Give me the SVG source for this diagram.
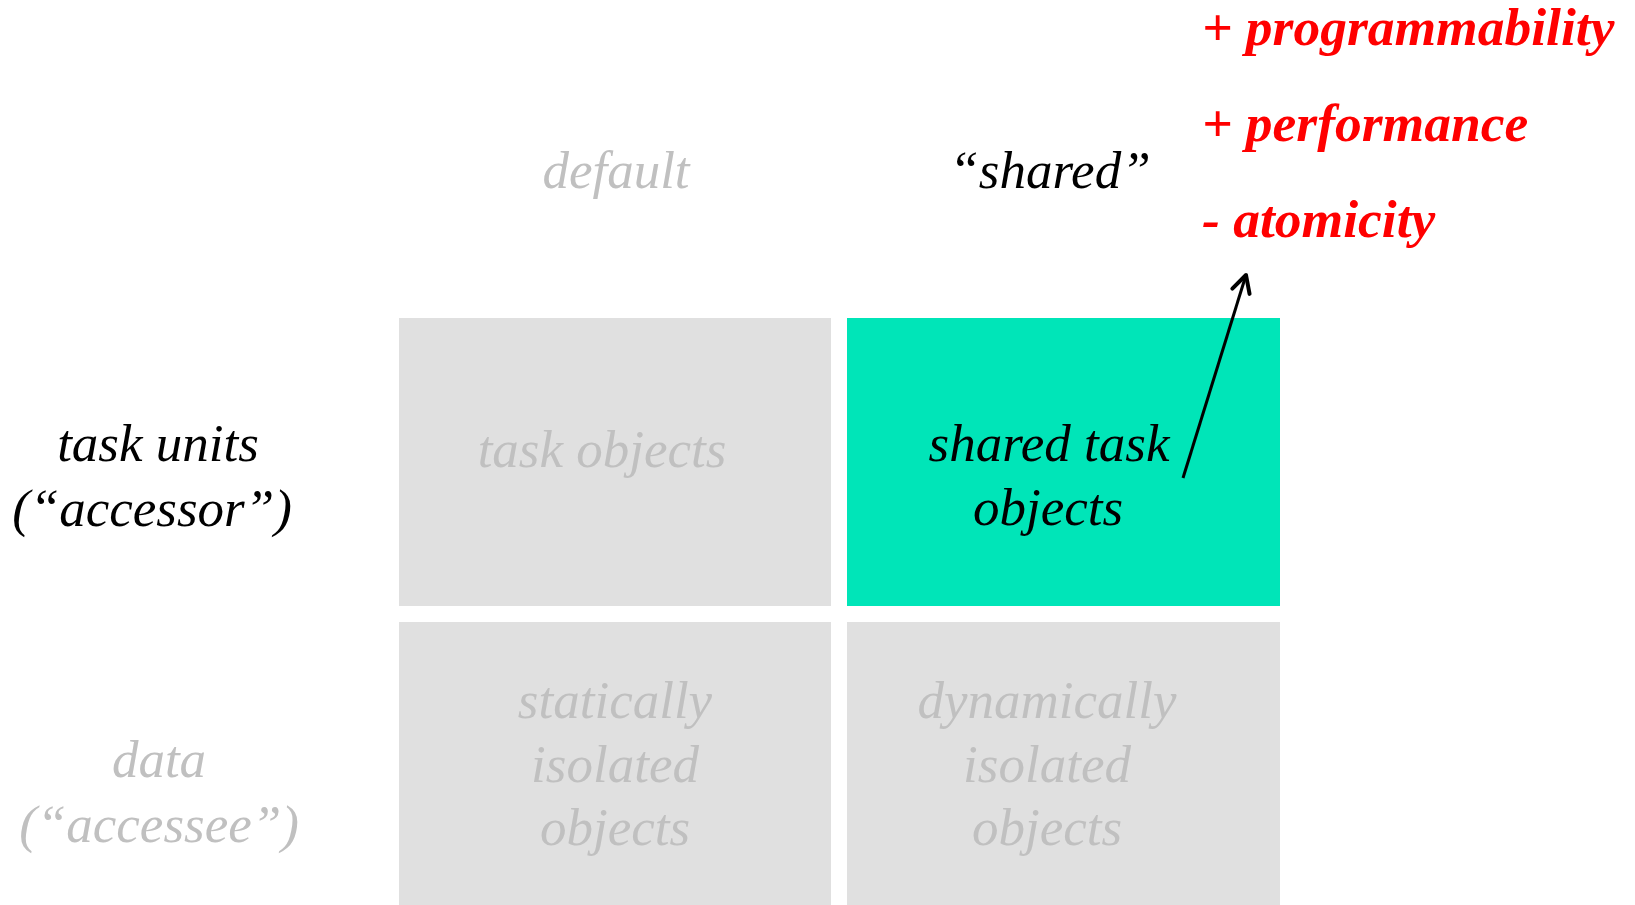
<svg xmlns="http://www.w3.org/2000/svg" width="1635" height="905" viewBox="0 0 1635 905">
<style>
  text { font-family: "Liberation Serif", "Times New Roman", serif; font-style: italic; font-size: 53px; text-anchor: middle; }
  .dim { fill: #c0c0c0; }
  .dark { fill: #000000; }
  .red { fill: #ff0000; font-weight: bold; font-size: 53.5px; text-anchor: start; }
  .gray { fill: #e0e0e0; }
  .teal { fill: #00e5b8; }
</style>
<defs>
  <marker id="arrow" viewBox="0 0 24 24" refX="20" refY="12" markerWidth="24" markerHeight="24" markerUnits="userSpaceOnUse" orient="auto">
    <path d="M3,3 L20,12 L3,21" fill="none" stroke="#000" stroke-width="4" stroke-linecap="round" stroke-linejoin="round"/>
  </marker>
</defs>
<rect width="1635" height="905" fill="#ffffff"/>

<g id="header-default"><text class="dim" x="616" y="188">default</text></g>
<g id="header-shared"><text class="dark" x="1050" y="188">“shared”</text></g>

<g id="row-task-units"><text class="dark" x="158" y="461">task units</text><text class="dark" x="152" y="526">(“accessor”)</text></g>
<g id="row-data"><text class="dim" x="159" y="777">data</text><text class="dim" x="159" y="842">(“accessee”)</text></g>

<g id="cell-task-objects"><rect class="gray" x="399" y="318" width="432" height="288"/><text class="dim" x="602" y="467">task objects</text></g>
<g id="cell-shared-task-objects"><rect class="teal" x="847" y="318" width="433" height="288"/><text class="dark" x="1049" y="461">shared task</text><text class="dark" x="1048" y="525">objects</text></g>
<g id="cell-statically-isolated"><rect class="gray" x="399" y="622" width="432" height="283"/><text class="dim" x="615" y="718">statically</text><text class="dim" x="615" y="782">isolated</text><text class="dim" x="615" y="845">objects</text></g>
<g id="cell-dynamically-isolated"><rect class="gray" x="847" y="622" width="433" height="283"/><text class="dim" x="1047" y="718">dynamically</text><text class="dim" x="1047" y="782">isolated</text><text class="dim" x="1047" y="845">objects</text></g>

<g id="tradeoffs">
  <text class="red" x="1202" y="45">+ programmability</text>
  <text class="red" x="1202" y="141">+ performance</text>
  <text class="red" x="1202" y="237">- atomicity</text>
</g>

<g id="connectors">
  <line x1="1183" y1="478" x2="1246" y2="275" stroke="#000" stroke-width="3" marker-end="url(#arrow)"/>
</g>
</svg>
